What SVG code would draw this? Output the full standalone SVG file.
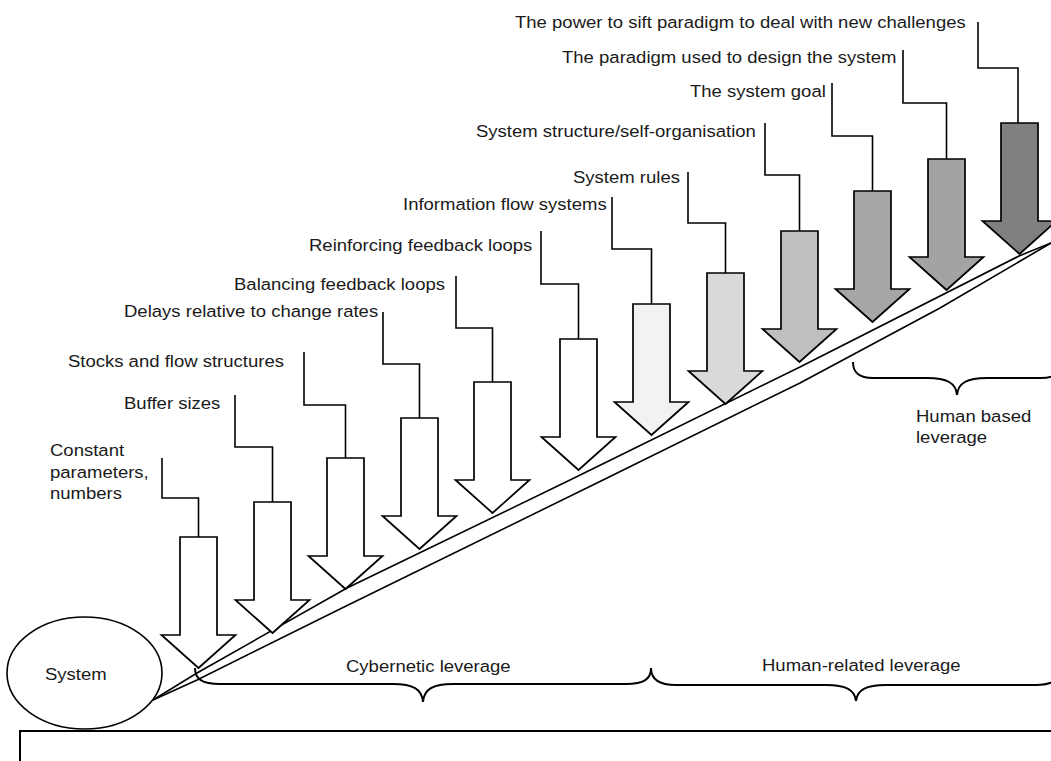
<svg xmlns="http://www.w3.org/2000/svg" width="1051" height="761" viewBox="0 0 1051 761">
<style>
.t{font-family:"Liberation Sans",Arial,sans-serif;font-size:17px;fill:#1a1a1a}
.a{stroke:#000;stroke-width:1.7;stroke-linejoin:miter}
.ln{fill:none;stroke:#000;stroke-width:1.6}
.br{fill:none;stroke:#000;stroke-width:2}
</style>
<defs>
<path id="arr" d="M0,0 H37 V98 H55.5 L18.5,131 L-18.5,98 H0 Z"/>
</defs>
<rect width="1051" height="761" fill="#fff"/>

<g id="bottom-box">
<rect x="20" y="731" width="1100" height="100" fill="#fff" stroke="#000" stroke-width="2"/>
</g>

<g id="system">
<ellipse cx="84.5" cy="673" rx="77.5" ry="56" fill="#fff" stroke="#000" stroke-width="1.6"/>
</g>

<g id="slope">
<polyline class="ln" points="153,700 197,673 347,588 570,480 800,367 1019,256 1051,243"/>
<polyline class="ln" points="153,700 197,680 340,609 603,480 800,383 940,308 1051,243"/>
</g>

<g id="connectors">
<path class="ln" d="M162,458 V498 H198.5 V537"/>
<path class="ln" d="M235,395 V447 H272.5 V502"/>
<path class="ln" d="M304,352 V405 H345.5 V458"/>
<path class="ln" d="M383,312 V364 H419.5 V418"/>
<path class="ln" d="M456,276 V328 H492.5 V382"/>
<path class="ln" d="M541,231 V284 H578.5 V339"/>
<path class="ln" d="M612,197 V249 H651.5 V304"/>
<path class="ln" d="M688,172 V223 H725.5 V273"/>
<path class="ln" d="M765,123 V175 H799.5 V231"/>
<path class="ln" d="M832,83 V136 H872.5 V191"/>
<path class="ln" d="M903,50 V103 H946.5 V159"/>
<path class="ln" d="M978,22 V68 H1018 V123"/>
</g>

<g id="arrows">
<g id="n1"><use href="#arr" x="180" y="537" class="a" fill="#fff"/></g>
<g id="n2"><use href="#arr" x="254" y="502" class="a" fill="#fff"/></g>
<g id="n3"><use href="#arr" x="327" y="458" class="a" fill="#fff"/></g>
<g id="n4"><use href="#arr" x="401" y="418" class="a" fill="#fff"/></g>
<g id="n5"><use href="#arr" x="474" y="382" class="a" fill="#fff"/></g>
<g id="n6"><use href="#arr" x="560" y="339" class="a" fill="#fff"/></g>
<g id="n7"><use href="#arr" x="633" y="304" class="a" fill="#f2f2f2"/></g>
<g id="n8"><use href="#arr" x="707" y="273" class="a" fill="#d9d9d9"/></g>
<g id="n9"><use href="#arr" x="781" y="231" class="a" fill="#bfbfbf"/></g>
<g id="n10"><use href="#arr" x="854" y="191" class="a" fill="#a6a6a6"/></g>
<g id="n11"><use href="#arr" x="928" y="159" class="a" fill="#a3a3a3"/></g>
<g id="n12"><use href="#arr" x="1001" y="123" class="a" fill="#808080"/></g>
</g>

<g id="braces">
<path class="br" d="M195,668 C195,679 202,684 220,684 H393 C413,684 422,689 423,702 C424,689 433,684 453,684 H626 C644,684 651,679 651,668"/>
<path class="br" d="M651,668 C651,679 658,685 676,685 H826 C846,685 855,690 856,701 C857,690 866,685 886,685 H1036 C1054,685 1061,679 1061,668"/>
<path class="br" d="M853,362 C853,373 859,378 873,378 H927 C947,378 956,383 957,395 C958,383 967,378 987,378 H1041 C1055,378 1061,373 1061,362"/>
</g>

<g id="labels" transform="scale(1.09,1)">
<text class="t" x="45.87" y="456">Constant<tspan x="45.87" y="478">parameters,</tspan><tspan x="45.87" y="499">numbers</tspan></text>
<text class="t" x="113.76" y="409">Buffer sizes</text>
<text class="t" x="260.55" y="367" text-anchor="end">Stocks and flow structures</text>
<text class="t" x="113.76" y="317">Delays relative to change rates</text>
<text class="t" x="214.68" y="290">Balancing feedback loops</text>
<text class="t" x="283.49" y="251">Reinforcing feedback loops</text>
<text class="t" x="369.72" y="210">Information flow systems</text>
<text class="t" x="525.69" y="183">System rules</text>
<text class="t" x="436.70" y="137">System structure/self-organisation</text>
<text class="t" x="633.03" y="97">The system goal</text>
<text class="t" x="515.60" y="63">The paradigm used to design the system</text>
<text class="t" x="472.48" y="28">The power to sift paradigm to deal with new challenges</text>
<text class="t" x="41.28" y="680">System</text>
<text class="t" x="317.43" y="672">Cybernetic leverage</text>
<text class="t" x="699.08" y="671">Human-related leverage</text>
<text class="t" x="840.37" y="422">Human based</text>
<text class="t" x="840.37" y="443">leverage</text>
</g>
</svg>
